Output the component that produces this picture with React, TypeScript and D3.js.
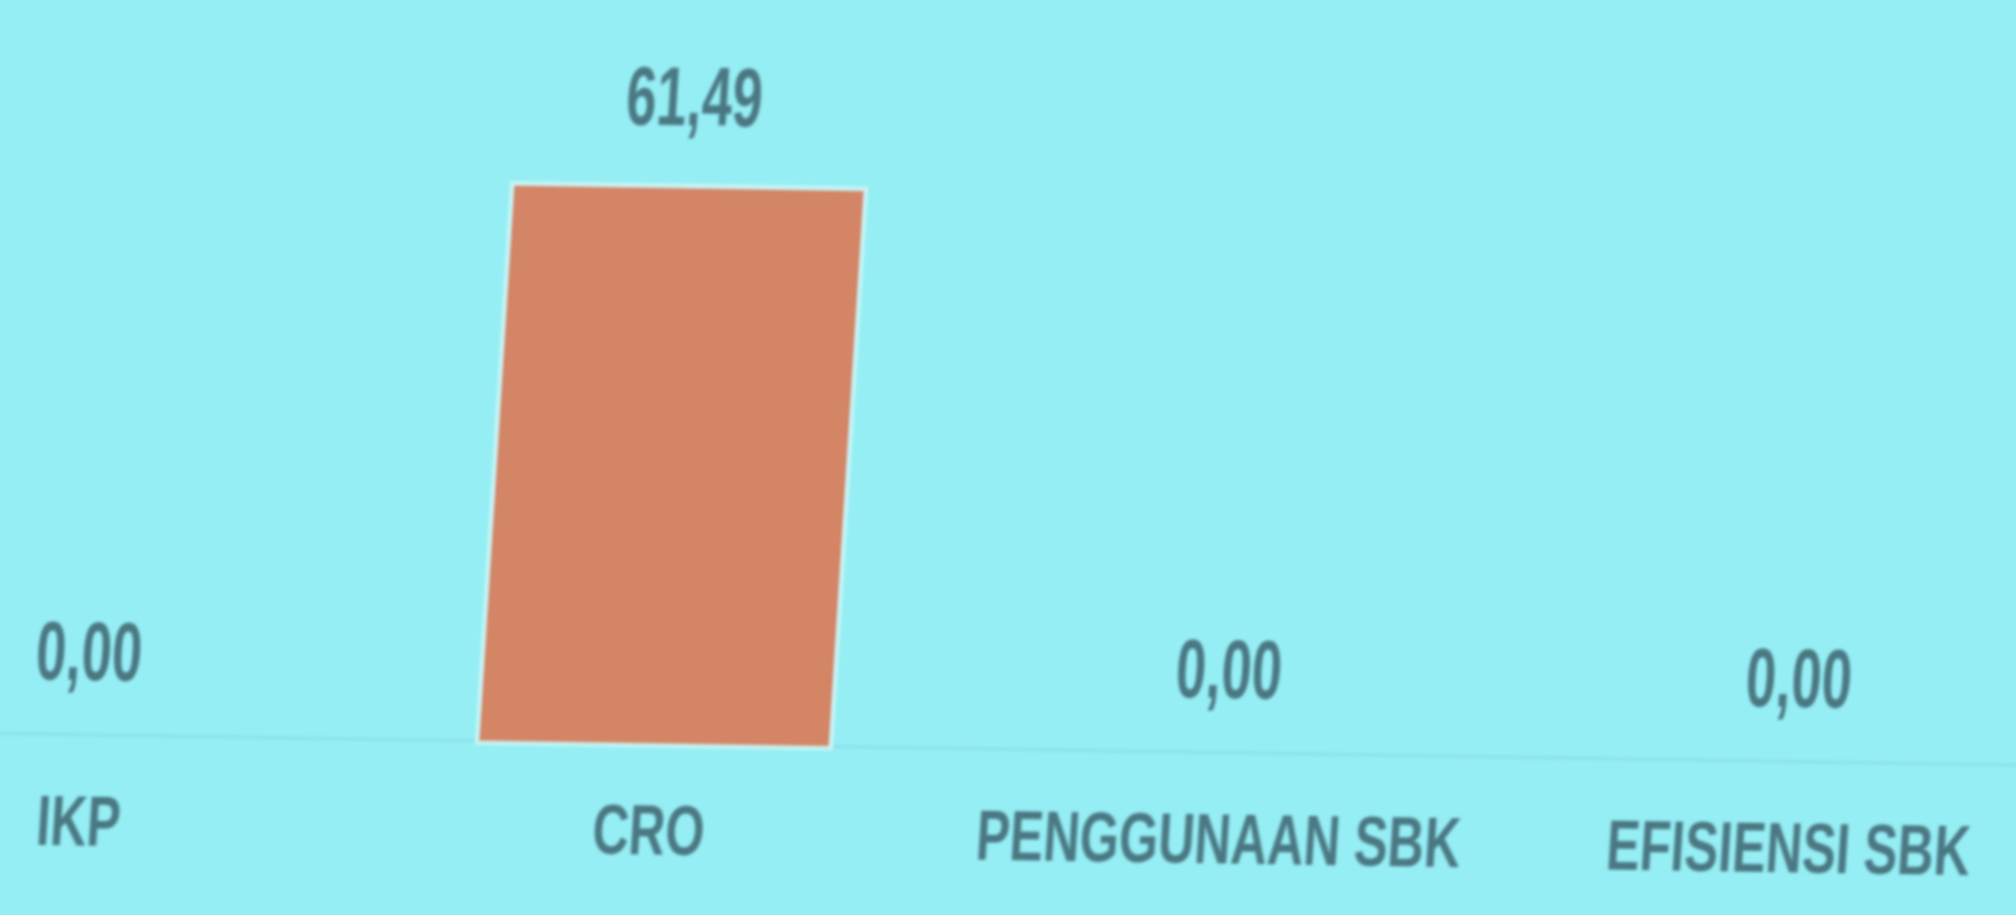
import * as React from "react";
import * as d3 from "d3";

const categories = ["IKP", "CRO", "PENGGUNAAN SBK", "EFISIENSI SBK"];
const values = [0, 61.49, 0, 0];
const valueLabels = ["0,00", "61,49", "0,00", "0,00"];

function App() {
  const width = 2016;
  const height = 915;
  const baseline = 749;

  const x = d3
    .scaleBand()
    .domain(categories)
    .range([-201, 2079])
    .paddingInner(0.386)
    .paddingOuter(0.193);

  const y = d3.scaleLinear().domain([0, 61.49]).range([baseline, 193]);

  const textColor = "#4a7782";

  return (
    <svg
      width={width}
      height={height}
      style={{ position: "absolute", left: 0, top: 0, display: "block" }}
    >
      <defs>
        <filter id="soft" x="-5%" y="-5%" width="110%" height="110%">
          <feGaussianBlur stdDeviation={1.8} />
        </filter>
      </defs>
      <rect width={width} height={height} fill="#96eef5" />
      <g
        filter="url(#soft)"
        transform={`rotate(0.9, 1000, ${baseline}) translate(0, ${baseline}) skewX(-2.7) translate(0, ${-baseline})`}
      >
        <line
          x1={-100}
          x2={2200}
          y1={baseline}
          y2={baseline}
          stroke="#8be4ea"
          strokeWidth={4}
        />
        {categories.map((c, i) => {
          const bx = x(c) as number;
          const bw = x.bandwidth();
          const cx = bx + bw / 2;
          const labelY = i === 1 ? y(values[i]) - 63 : y(values[i]) - 55;
          return (
            <g key={c}>
              {values[i] > 0 && (
                <>
                  <rect
                    x={bx - 4}
                    y={y(values[i]) - 4}
                    width={bw + 8}
                    height={baseline - y(values[i]) + 8}
                    fill="#c6f6f4"
                  />
                  <rect
                    x={bx}
                    y={y(values[i])}
                    width={bw}
                    height={baseline - y(values[i])}
                    fill="#d38566"
                  />
                </>
              )}
              <text
                transform={`translate(${cx}, ${labelY}) scale(0.68, 1.05)`}
                textAnchor="middle"
                fontFamily="Liberation Sans, Arial, sans-serif"
                fontWeight="bold"
                fontSize={80}
                fill={textColor}
              >
                {valueLabels[i]}
              </text>
              <text
                transform={`translate(${cx}, 860) scale(0.72, 1)`}
                textAnchor="middle"
                fontFamily="Liberation Sans, Arial, sans-serif"
                fontWeight="bold"
                fontSize={70}
                fill={textColor}
              >
                {c}
              </text>
            </g>
          );
        })}
      </g>
    </svg>
  );
}

export default App;
